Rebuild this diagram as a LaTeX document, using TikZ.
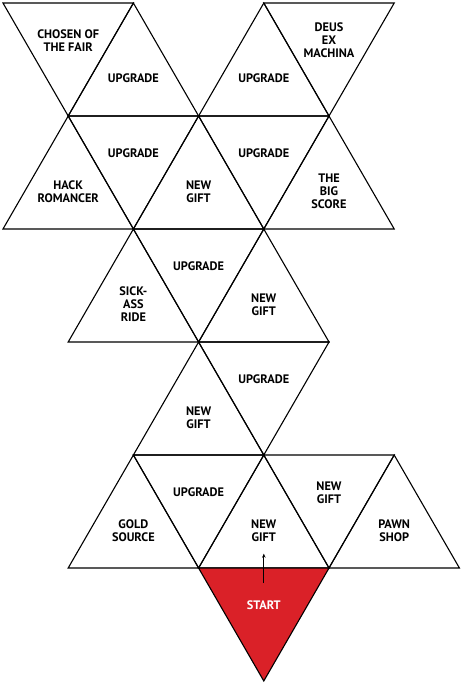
\documentclass[tikz,border=0pt]{standalone}
\usepackage{fontspec}
\setmainfont{PT Sans}
\usetikzlibrary{shapes.geometric, calc, arrows.meta}
\definecolor{startred}{HTML}{DA2128}

\begin{document}
\begin{tikzpicture}[x=65.2pt, y=-37.667pt,
  font=\fontsize{12.3}{13}\selectfont\bfseries,
  tri/.style={draw, regular polygon, regular polygon sides=3, minimum size=150.6pt,
              inner sep=0pt, outer sep=0pt, line width=1.1pt},
  uptri/.style={tri, label={[align=center]center:#1}},
  downtri/.style={tri, regular polygon rotate=180, label={[align=center]center:#1}},
  flow/.style={-{Stealth[length=4pt, width=3.5pt]}, line width=1pt},
]
  \useasboundingbox (-0.046,-0.08) rectangle (7.04,18.106);
  % top row
  \node[downtri={CHOSEN OF\\THE FAIR}] (chosen) at (1,1) {};
  \node[uptri=UPGRADE]                 (upA)    at (2,2) {};
  \node[uptri=UPGRADE]                 (upB)    at (4,2) {};
  \node[downtri={DEUS\\EX\\MACHINA}]   (deus)   at (5,1) {};
  % second row
  \node[uptri={HACK\\ROMANCER}]        (hack)   at (1,5) {};
  \node[downtri=UPGRADE]               (upC)    at (2,4) {};
  \node[uptri={NEW\\GIFT}]             (giftA)  at (3,5) {};
  \node[downtri=UPGRADE]               (upD)    at (4,4) {};
  \node[uptri={THE\\BIG\\SCORE}]       (score)  at (5,5) {};
  % third row
  \node[uptri={SICK-\\ASS\\RIDE}]      (sick)   at (2,8) {};
  \node[downtri=UPGRADE]               (upE)    at (3,7) {};
  \node[uptri={NEW\\GIFT}]             (giftB)  at (4,8) {};
  % fourth row
  \node[uptri={NEW\\GIFT}]             (giftC)  at (3,11) {};
  \node[downtri=UPGRADE]               (upF)    at (4,10) {};
  % fifth row
  \node[uptri={GOLD\\SOURCE}]          (gold)   at (2,14) {};
  \node[downtri=UPGRADE]               (upG)    at (3,13) {};
  \node[uptri={NEW\\GIFT}]             (giftD)  at (4,14) {};
  \node[downtri={NEW\\GIFT}]           (giftE)  at (5,13) {};
  \node[uptri={PAWN\\SHOP}]            (pawn)   at (6,14) {};
  % start
  \node[downtri={\textcolor{white}{START}}, fill=startred] (start) at (4,16) {};
  \draw[flow] ($(start)!0.3!(giftD)$) -- ($(start)!0.69!(giftD)$);
\end{tikzpicture}
\end{document}
